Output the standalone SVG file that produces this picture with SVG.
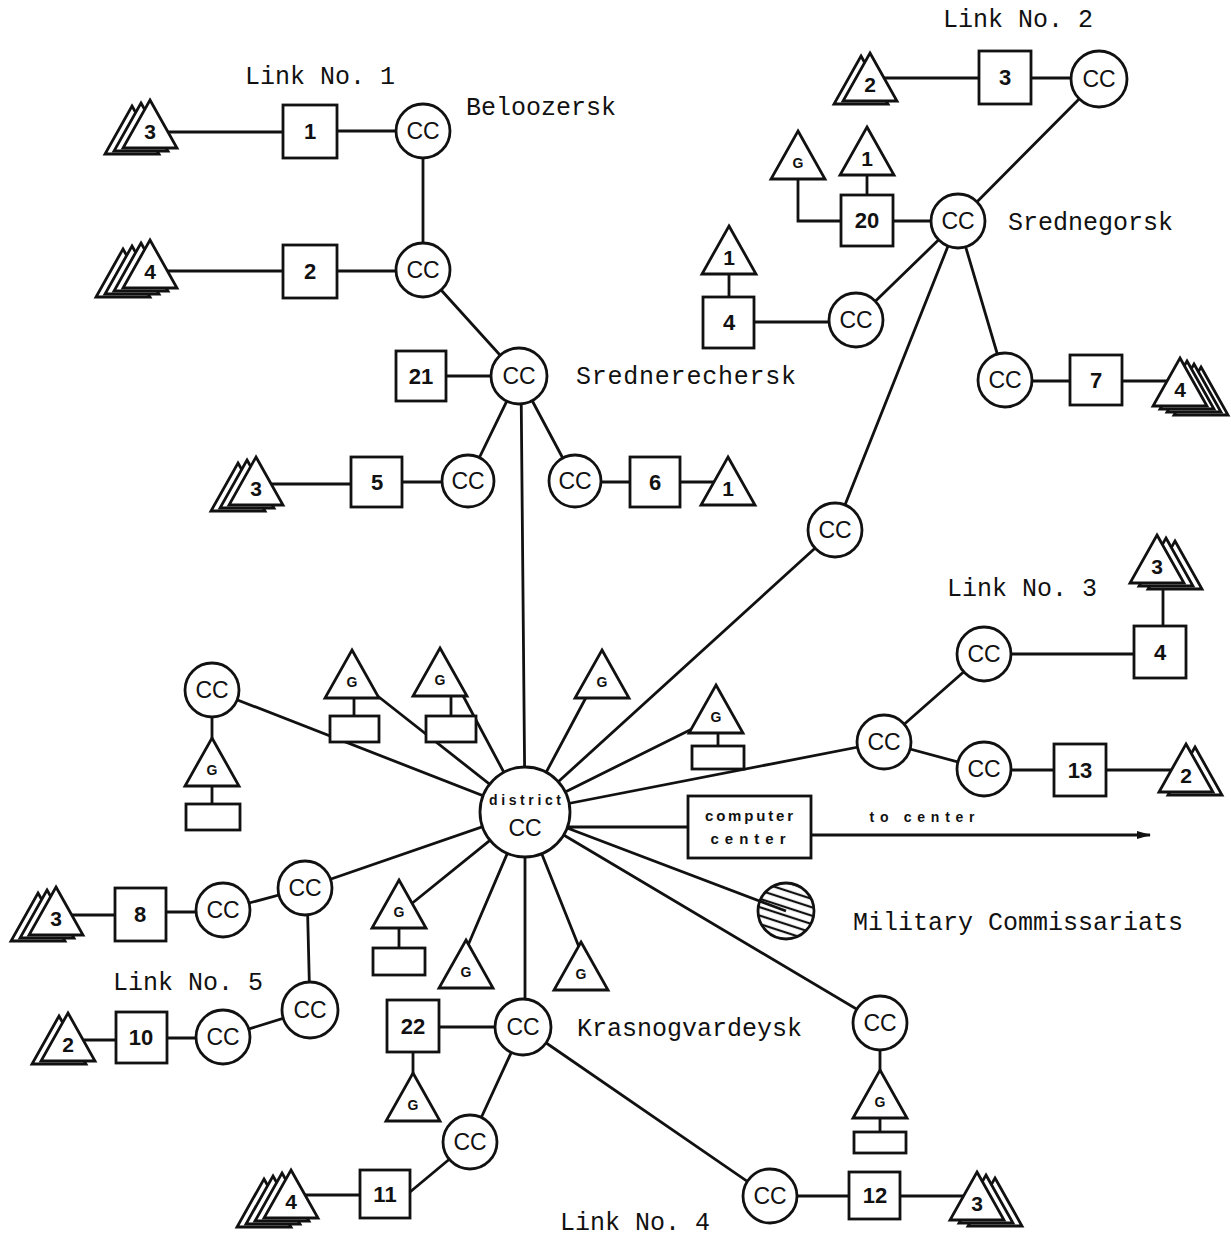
<svg xmlns="http://www.w3.org/2000/svg" width="1231" height="1241" viewBox="0 0 1231 1241">
<defs>
<style>
.s{fill:#fff;stroke:#111;stroke-width:2.8}
.l{fill:none;stroke:#111;stroke-width:2.8}
.n{font-family:"Liberation Sans",Arial,sans-serif;font-weight:bold;font-size:22px;text-anchor:middle;fill:#111}
.t{font-family:"Liberation Sans",Arial,sans-serif;font-weight:bold;font-size:21px;text-anchor:middle;fill:#111}
.c{font-family:"Liberation Sans",Arial,sans-serif;font-size:23px;text-anchor:middle;fill:#111}
.g{font-family:"Liberation Sans",Arial,sans-serif;font-weight:bold;font-size:14px;text-anchor:middle;fill:#111}
.lb{font-family:"Liberation Mono","Courier New",monospace;font-size:25px;fill:#111}
.sm{font-family:"Liberation Sans",Arial,sans-serif;font-weight:bold;font-size:14px;fill:#111;text-anchor:middle}
.cp{font-family:"Liberation Sans",Arial,sans-serif;font-weight:bold;font-size:15px;fill:#111;text-anchor:middle}
</style>
<path id="tri" d="M0,0 L27,48 L-27,48 Z"/>
<marker id="arr" markerWidth="14" markerHeight="10" refX="13" refY="5" orient="auto" markerUnits="userSpaceOnUse"><path d="M0,1 L14,5 L0,9 Z" fill="#111"/></marker>
<pattern id="hatch" width="8" height="8" patternUnits="userSpaceOnUse" patternTransform="rotate(18)"><line x1="0" y1="4" x2="8" y2="4" stroke="#111" stroke-width="2.2"/></pattern>
</defs>
<rect width="1231" height="1241" fill="#fff"/>

<g id="connectors" class="l">
<path d="M150,132 H283 M337,131 H396 M423,131 V270 M150,271 H283 M337,271 H396 M423,270 L519,376"/>
<path d="M421,376 H519 M519,376 L468,481 M519,376 L575,481 M521,376 L525,812 M256,484 H351 M377,482 H468 M575,482 H728"/>
<path d="M870,78 H1099 M1099,79 L958,221 M867,221 H958 M867,140 V221 M798,160 V221 H841 M958,221 L856,320 M729,250 V322 M729,322 H856 M958,221 L1005,380 M1005,381 H1180 M958,221 L835,530 M835,530 L525,812"/>
<path d="M1163,565 V652 M984,654 H1160 M884,742 L984,654 M884,742 L984,769 M984,770 H1186 M525,812 L884,742"/>
<path d="M525,827 H688 M525,812 L786,911 M525,812 L880,1023 M880,1023 V1132"/>
<path d="M212,690 V804 M212,690 L525,812 M354,680 V716 M370,690 L525,812 M451,680 V716 M460,690 L525,812 M590,690 L525,812 M718,715 V746 M700,725 L525,812"/>
<path d="M399,915 V948 M410,905 L525,812 M466,950 L525,812 M581,952 L525,812 M525,812 V1027 M305,888 L525,812"/>
<path d="M413,1027 H523 M413,1052 V1090 M523,1027 L470,1142 M470,1142 L410,1192 M291,1195 H385 M523,1027 L770,1197 M770,1196 H977"/>
<path d="M56,915 H140 M166,912 H223 M223,910 L305,888 M307,888 L310,1010 M310,1010 L223,1037 M68,1040 H141 M167,1038 H223"/>
<path d="M811,835 H1150" marker-end="url(#arr)"/>
</g>

<!-- Link No.1 / Beloozersk -->
<g id="tri-l1-3"><use href="#tri" class="s" x="132" y="106"/><use href="#tri" class="s" x="141" y="103"/><use href="#tri" class="s" x="150" y="100"/><text class="t" x="150" y="139">3</text></g>
<g id="box-1"><rect class="s" x="283" y="105" width="54" height="53"/><text class="n" x="310" y="139">1</text></g>
<g id="cc-bel1"><circle class="s" cx="423" cy="131" r="27"/><text class="c" x="423" y="139">CC</text></g>
<g id="cc-bel2"><circle class="s" cx="423" cy="270" r="27"/><text class="c" x="423" y="278">CC</text></g>
<g id="box-2"><rect class="s" x="283" y="245" width="54" height="53"/><text class="n" x="310" y="279">2</text></g>
<g id="tri-l1-4"><use href="#tri" class="s" x="123" y="249"/><use href="#tri" class="s" x="132" y="246"/><use href="#tri" class="s" x="141" y="243"/><use href="#tri" class="s" x="150" y="240"/><text class="t" x="150" y="279">4</text></g>

<!-- Srednerechersk -->
<g id="cc-sredn"><circle class="s" cx="519" cy="376" r="28"/><text class="c" x="519" y="384">CC</text></g>
<g id="box-21"><rect class="s" x="396" y="351" width="50" height="50"/><text class="n" x="421" y="384">21</text></g>
<g id="cc-sredn-l"><circle class="s" cx="468" cy="481" r="26"/><text class="c" x="468" y="489">CC</text></g>
<g id="cc-sredn-r"><circle class="s" cx="575" cy="481" r="26"/><text class="c" x="575" y="489">CC</text></g>
<g id="box-5"><rect class="s" x="351" y="457" width="51" height="50"/><text class="n" x="377" y="490">5</text></g>
<g id="tri-5-3"><use href="#tri" class="s" x="238" y="463"/><use href="#tri" class="s" x="247" y="460"/><use href="#tri" class="s" x="256" y="457"/><text class="t" x="256" y="496">3</text></g>
<g id="box-6"><rect class="s" x="630" y="457" width="50" height="50"/><text class="n" x="655" y="490">6</text></g>
<g id="tri-6-1"><use href="#tri" class="s" x="728" y="457"/><text class="t" x="728" y="496">1</text></g>

<!-- Link No.2 / Srednegorsk -->
<g id="tri-l2-2"><use href="#tri" class="s" x="861" y="56"/><use href="#tri" class="s" x="870" y="53"/><text class="t" x="870" y="92">2</text></g>
<g id="box-3"><rect class="s" x="979" y="51" width="52" height="53"/><text class="n" x="1005" y="85">3</text></g>
<g id="cc-l2"><circle class="s" cx="1099" cy="79" r="28"/><text class="c" x="1099" y="87">CC</text></g>
<g id="cc-sredneg"><circle class="s" cx="958" cy="221" r="27"/><text class="c" x="958" y="229">CC</text></g>
<g id="box-20"><rect class="s" x="841" y="195" width="52" height="51"/><text class="n" x="867" y="228">20</text></g>
<g id="tri-20-1"><use href="#tri" class="s" x="867" y="127"/><text class="t" x="867" y="166">1</text></g>
<g id="tri-20-g"><use href="#tri" class="s" x="798" y="131"/><text class="g" x="798" y="168">G</text></g>
<g id="cc-sg-l"><circle class="s" cx="856" cy="320" r="27"/><text class="c" x="856" y="328">CC</text></g>
<g id="box-4a"><rect class="s" x="703" y="297" width="51" height="51"/><text class="n" x="729" y="330">4</text></g>
<g id="tri-4a-1"><use href="#tri" class="s" x="729" y="226"/><text class="t" x="729" y="265">1</text></g>
<g id="cc-sg-r"><circle class="s" cx="1005" cy="380" r="27"/><text class="c" x="1005" y="388">CC</text></g>
<g id="box-7"><rect class="s" x="1070" y="355" width="52" height="50"/><text class="n" x="1096" y="388">7</text></g>
<g id="tri-7-4"><use href="#tri" class="s" x="1201" y="367"/><use href="#tri" class="s" x="1194" y="364"/><use href="#tri" class="s" x="1187" y="361"/><use href="#tri" class="s" x="1180" y="358"/><text class="t" x="1180" y="397">4</text></g>
<g id="cc-mid"><circle class="s" cx="835" cy="530" r="27"/><text class="c" x="835" y="538">CC</text></g>

<!-- Link No.3 -->
<g id="tri-l3-3"><use href="#tri" class="s" x="1175" y="541"/><use href="#tri" class="s" x="1166" y="538"/><use href="#tri" class="s" x="1157" y="535"/><text class="t" x="1157" y="574">3</text></g>
<g id="box-4b"><rect class="s" x="1134" y="626" width="52" height="52"/><text class="n" x="1160" y="660">4</text></g>
<g id="cc-l3-u"><circle class="s" cx="984" cy="654" r="27"/><text class="c" x="984" y="662">CC</text></g>
<g id="cc-l3-m"><circle class="s" cx="884" cy="742" r="27"/><text class="c" x="884" y="750">CC</text></g>
<g id="cc-l3-d"><circle class="s" cx="984" cy="769" r="27"/><text class="c" x="984" y="777">CC</text></g>
<g id="box-13"><rect class="s" x="1054" y="744" width="52" height="52"/><text class="n" x="1080" y="778">13</text></g>
<g id="tri-13-2"><use href="#tri" class="s" x="1195" y="747"/><use href="#tri" class="s" x="1186" y="744"/><text class="t" x="1186" y="783">2</text></g>

<!-- District -->
<g id="district-cc"><circle class="s" cx="525" cy="812" r="45"/><text class="sm" x="525" y="805" textLength="72" lengthAdjust="spacing">district</text><text class="c" x="525" y="836">CC</text></g>
<g id="computer-center"><rect class="s" x="688" y="796" width="123" height="62"/><text class="cp" x="749" y="821" textLength="88" lengthAdjust="spacing">computer</text><text class="cp" x="748" y="844" textLength="75" lengthAdjust="spacing">center</text></g>
<text class="sm" x="922" y="822" textLength="105" lengthAdjust="spacing">to center</text>
<g id="military"><circle cx="786" cy="911" r="28" fill="url(#hatch)" stroke="#111" stroke-width="2.8"/><text class="lb" x="853" y="930">Military Commissariats</text></g>
<g id="cc-r-low"><circle class="s" cx="880" cy="1023" r="27"/><text class="c" x="880" y="1031">CC</text></g>
<g id="tri-g-r"><use href="#tri" class="s" x="880" y="1070"/><text class="g" x="880" y="1107">G</text><rect class="s" x="854" y="1132" width="52" height="21"/></g>

<!-- upper G terminals -->
<g id="cc-far-l"><circle class="s" cx="212" cy="690" r="27"/><text class="c" x="212" y="698">CC</text></g>
<g id="tri-g-fl"><use href="#tri" class="s" x="212" y="738"/><text class="g" x="212" y="775">G</text><rect class="s" x="186" y="804" width="54" height="26"/></g>
<g id="tri-g1"><use href="#tri" class="s" x="352" y="650"/><text class="g" x="352" y="687">G</text><rect class="s" x="330" y="716" width="49" height="26"/></g>
<g id="tri-g2"><use href="#tri" class="s" x="440" y="648"/><text class="g" x="440" y="685">G</text><rect class="s" x="426" y="716" width="50" height="26"/></g>
<g id="tri-g3"><use href="#tri" class="s" x="602" y="650"/><text class="g" x="602" y="687">G</text></g>
<g id="tri-g4"><use href="#tri" class="s" x="716" y="685"/><text class="g" x="716" y="722">G</text><rect class="s" x="692" y="746" width="52" height="23"/></g>

<!-- lower G terminals -->
<g id="tri-g5"><use href="#tri" class="s" x="399" y="880"/><text class="g" x="399" y="917">G</text><rect class="s" x="373" y="948" width="52" height="27"/></g>
<g id="tri-g6"><use href="#tri" class="s" x="466" y="940"/><text class="g" x="466" y="977">G</text></g>
<g id="tri-g7"><use href="#tri" class="s" x="581" y="942"/><text class="g" x="581" y="979">G</text></g>

<!-- Krasnogvardeysk / Link No.4 -->
<g id="cc-krasno"><circle class="s" cx="523" cy="1027" r="28"/><text class="c" x="523" y="1035">CC</text></g>
<g id="box-22"><rect class="s" x="387" y="1000" width="52" height="52"/><text class="n" x="413" y="1034">22</text></g>
<g id="tri-g22"><use href="#tri" class="s" x="413" y="1073"/><text class="g" x="413" y="1110">G</text></g>
<g id="cc-k-l"><circle class="s" cx="470" cy="1142" r="27"/><text class="c" x="470" y="1150">CC</text></g>
<g id="box-11"><rect class="s" x="360" y="1170" width="50" height="48"/><text class="n" x="385" y="1202">11</text></g>
<g id="tri-11-4"><use href="#tri" class="s" x="264" y="1179"/><use href="#tri" class="s" x="273" y="1176"/><use href="#tri" class="s" x="282" y="1173"/><use href="#tri" class="s" x="291" y="1170"/><text class="t" x="291" y="1209">4</text></g>
<g id="cc-k-r"><circle class="s" cx="770" cy="1196" r="27"/><text class="c" x="770" y="1204">CC</text></g>
<g id="box-12"><rect class="s" x="849" y="1172" width="51" height="47"/><text class="n" x="875" y="1203">12</text></g>
<g id="tri-12-3"><use href="#tri" class="s" x="995" y="1178"/><use href="#tri" class="s" x="986" y="1175"/><use href="#tri" class="s" x="977" y="1172"/><text class="t" x="977" y="1211">3</text></g>

<!-- Link No.5 -->
<g id="cc-l5-u"><circle class="s" cx="305" cy="888" r="27"/><text class="c" x="305" y="896">CC</text></g>
<g id="cc-l5-8"><circle class="s" cx="223" cy="910" r="27"/><text class="c" x="223" y="918">CC</text></g>
<g id="box-8"><rect class="s" x="115" y="888" width="51" height="53"/><text class="n" x="140" y="922">8</text></g>
<g id="tri-8-3"><use href="#tri" class="s" x="38" y="893"/><use href="#tri" class="s" x="47" y="890"/><use href="#tri" class="s" x="56" y="887"/><text class="t" x="56" y="926">3</text></g>
<g id="cc-l5-d"><circle class="s" cx="310" cy="1010" r="28"/><text class="c" x="310" y="1018">CC</text></g>
<g id="cc-l5-10"><circle class="s" cx="223" cy="1037" r="27"/><text class="c" x="223" y="1045">CC</text></g>
<g id="box-10"><rect class="s" x="116" y="1012" width="51" height="51"/><text class="n" x="141" y="1045">10</text></g>
<g id="tri-10-2"><use href="#tri" class="s" x="59" y="1016"/><use href="#tri" class="s" x="68" y="1013"/><text class="t" x="68" y="1052">2</text></g>

<!-- labels -->
<g id="labels">
<text class="lb" x="245" y="84">Link No. 1</text>
<text class="lb" x="466" y="115">Beloozersk</text>
<text class="lb" x="576" y="384" textLength="220" lengthAdjust="spacing">Srednerechersk</text>
<text class="lb" x="943" y="27">Link No. 2</text>
<text class="lb" x="1008" y="230">Srednegorsk</text>
<text class="lb" x="947" y="596">Link No. 3</text>
<text class="lb" x="577" y="1036">Krasnogvardeysk</text>
<text class="lb" x="113" y="990">Link No. 5</text>
<text class="lb" x="560" y="1230">Link No. 4</text>
</g>
</svg>
